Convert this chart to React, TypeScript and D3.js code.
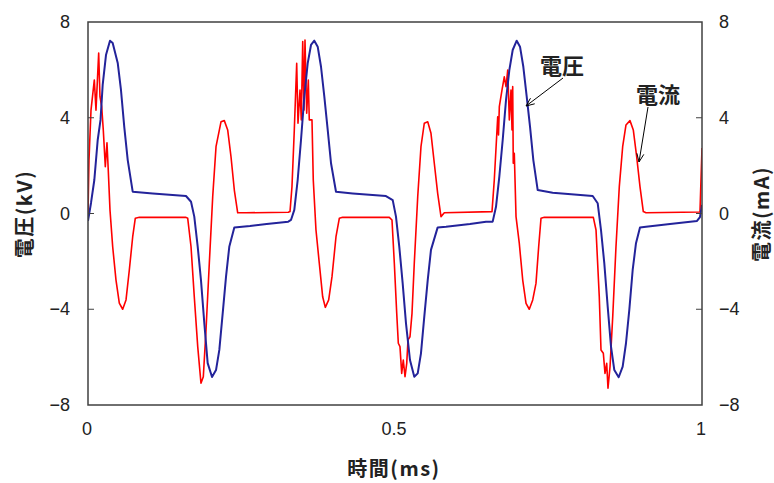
import React from "react";
import * as d3 from "d3";

// time (ms), voltage (kV)
const voltageTime = [
  0, 0.0049, 0.0103, 0.0158, 0.0204, 0.0239, 0.0293, 0.0358, 0.0402, 0.0484, 0.0537, 0.0591, 0.0647, 0.0728,
  0.1054, 0.1596, 0.1678, 0.1731, 0.1787, 0.184, 0.1894, 0.1949, 0.202, 0.2085, 0.2139, 0.2194, 0.2248, 0.2301,
  0.2383, 0.2638, 0.291, 0.3262, 0.3306, 0.336, 0.3415, 0.3469, 0.3523, 0.3578, 0.3632, 0.3686, 0.3741, 0.3795,
  0.3849, 0.3904, 0.3958, 0.4039, 0.4311, 0.4853, 0.4963, 0.5016, 0.507, 0.5125, 0.5179, 0.5244, 0.5314, 0.537,
  0.5423, 0.5477, 0.5533, 0.5586, 0.5695, 0.5831, 0.6221, 0.6482, 0.6591, 0.6645, 0.6699, 0.6754, 0.6808, 0.6862,
  0.6917, 0.6982, 0.7036, 0.709, 0.7145, 0.7199, 0.7253, 0.7324, 0.7568, 0.822, 0.8301, 0.8355, 0.8409, 0.8464,
  0.8518, 0.8572, 0.8643, 0.8708, 0.8762, 0.8816, 0.8871, 0.8925, 0.899, 0.9088, 0.9479, 0.9919, 0.9967, 1.0,
];
const voltageKV = [
  -0.31, 0.44, 1.4, 3.07, 3.91, 5.37, 6.62, 7.22, 7.12, 6.29, 5.16, 3.61, 2.23, 0.91,
  0.84, 0.73, 0.49, -0.13, -1.39, -2.78, -4.57, -6.25, -6.83, -6.54, -5.7, -4.16, -2.64, -1.39,
  -0.58, -0.52, -0.44, -0.34, -0.27, 0.15, 1.4, 3.07, 4.88, 6.27, 7.04, 7.22, 6.97, 6.13,
  4.88, 3.49, 2.1, 0.91, 0.84, 0.73, 0.56, -0.13, -1.39, -2.92, -4.59, -6.12, -6.82, -6.68,
  -5.84, -4.31, -2.78, -1.52, -0.58, -0.55, -0.44, -0.34, -0.34, 0.28, 1.54, 3.07, 4.74, 5.99,
  6.83, 7.22, 6.97, 6.13, 4.88, 3.63, 2.23, 0.98, 0.87, 0.73, 0.43, -0.69, -2.08, -3.89,
  -5.56, -6.54, -6.84, -6.4, -5.42, -4.03, -2.36, -1.24, -0.58, -0.55, -0.44, -0.31, -0.15, 0.36,
];

// time (ms), current (mA)
const currentTime = [
  0, 0.0016, 0.0049, 0.0103, 0.013, 0.0174, 0.0195, 0.0223, 0.0249, 0.0282, 0.0309, 0.033, 0.0358, 0.0402,
  0.0456, 0.051, 0.0565, 0.0619, 0.0673, 0.0728, 0.077, 0.0836, 0.1596, 0.1624, 0.1678, 0.1731, 0.1787, 0.184,
  0.1878, 0.1922, 0.1976, 0.2031, 0.2085, 0.2166, 0.222, 0.2275, 0.2329, 0.2383, 0.2438, 0.2573, 0.3262, 0.329,
  0.3322, 0.336, 0.3399, 0.342, 0.3453, 0.3474, 0.3497, 0.3518, 0.3534, 0.3562, 0.3588, 0.3604, 0.3648, 0.3669,
  0.3713, 0.3767, 0.3822, 0.3865, 0.392, 0.3974, 0.4039, 0.4093, 0.4148, 0.4907, 0.4951, 0.4989, 0.5028, 0.5054,
  0.5081, 0.5109, 0.5135, 0.5163, 0.5191, 0.5212, 0.5244, 0.5277, 0.5314, 0.537, 0.5423, 0.5477, 0.5533, 0.5586,
  0.564, 0.5695, 0.5749, 0.5803, 0.658, 0.6617, 0.6673, 0.6686, 0.6699, 0.6743, 0.678, 0.6808, 0.6836, 0.6862,
  0.6889, 0.6906, 0.6917, 0.6926, 0.6943, 0.6971, 0.7024, 0.708, 0.7134, 0.7187, 0.7243, 0.7296, 0.734, 0.7378,
  0.7432, 0.823, 0.8274, 0.8327, 0.8355, 0.8393, 0.842, 0.8448, 0.8469, 0.8502, 0.8546, 0.8599, 0.8653, 0.8708,
  0.8762, 0.8827, 0.8881, 0.8936, 0.899, 0.9044, 0.9088, 0.9967, 1.0,
];
const currentMA = [
  0.02, 2.23, 4.32, 5.58, 4.32, 6.7, 4.88, 4.46, 3.49, 1.96, 2.95, 1.82, 0.15, -1.39,
  -2.78, -3.74, -4.0, -3.61, -2.36, -0.97, -0.2, -0.16, -0.16, -0.2, -1.39, -3.48, -5.56, -7.09,
  -6.82, -4.87, -2.07, 0.7, 2.79, 3.83, 3.88, 3.49, 2.37, 0.98, 0.03, 0.03, 0.05, 0.08,
  1.12, 3.49, 6.27, 3.77, 5.16, 3.91, 7.18, 4.32, 7.25, 4.19, 5.58, 3.91, 3.91, 1.4,
  -0.69, -2.08, -3.48, -3.92, -3.61, -2.64, -0.97, -0.2, -0.16, -0.16, -0.27, -2.08, -4.17, -5.42,
  -5.56, -6.68, -6.12, -6.82, -6.26, -5.28, -5.15, -4.17, -2.08, 0.7, 2.79, 3.77, 3.83, 3.35,
  2.1, 0.84, -0.13, 0.03, 0.08, 1.4, 4.04, 3.28, 4.46, 5.16, 5.71, 5.3, 5.99, 3.91,
  5.16, 3.49, 5.3, 2.1, 2.51, -0.13, -1.24, -2.78, -3.75, -4.0, -3.61, -2.92, -1.39, -0.2,
  -0.16, -0.16, -0.69, -3.48, -5.7, -5.84, -6.68, -6.26, -7.3, -6.4, -4.31, -1.39, 1.12, 2.79,
  3.7, 3.88, 3.49, 2.37, 1.12, 0.08, 0.03, 0.06, 2.74,
];

const yTicks = [8, 4, 0, -4, -8];
const xTicks = [0, 0.5, 1];
const yTickInside = [4, 0, -4];

const W = 774;
const H = 483;
const M = { left: 88, right: 702, top: 22, bottom: 405 };

const fmt = (v: number) => (v < 0 ? "\u2212" + Math.abs(v) : String(v));

export default function App() {
  const x = d3.scaleLinear().domain([0, 1]).range([M.left, M.right]);
  const yL = d3.scaleLinear().domain([-8, 8]).range([M.bottom, M.top]);
  const yR = d3.scaleLinear().domain([-8, 8]).range([M.bottom, M.top]);

  const vPts: [number, number][] = voltageTime.map((t, i) => [t, voltageKV[i]]);
  const cPts: [number, number][] = currentTime.map((t, i) => [t, currentMA[i]]);
  const vLine = d3
    .line<[number, number]>()
    .x((d) => x(d[0]))
    .y((d) => yL(d[1]));
  const cLine = d3
    .line<[number, number]>()
    .x((d) => x(d[0]))
    .y((d) => yR(d[1]));

  const tickFont = "'Liberation Sans', Arial, sans-serif";
  const jpFont = "'Noto Sans CJK JP', sans-serif";

  const arrow = (x1: number, y1: number, x2: number, y2: number) => {
    const a = Math.atan2(y2 - y1, x2 - x1);
    const L = 9;
    const s = 0.4;
    const p1 = [x2 - L * Math.cos(a - s), y2 - L * Math.sin(a - s)];
    const p2 = [x2 - L * Math.cos(a + s), y2 - L * Math.sin(a + s)];
    return (
      <g stroke="#000" strokeWidth={1} fill="none">
        <line x1={x1} y1={y1} x2={x2} y2={y2} />
        <polyline points={`${p1[0]},${p1[1]} ${x2},${y2} ${p2[0]},${p2[1]}`} />
      </g>
    );
  };

  const titleProps = {
    textAnchor: "middle" as const,
    dominantBaseline: "central" as const,
    fontFamily: jpFont,
    fontWeight: 700,
    fontSize: 20,
    letterSpacing: 1.5,
    fill: "#222",
  };

  return (
    <svg
      width={W}
      height={H}
      style={{ position: "absolute", left: 0, top: 0, background: "#fff" }}
    >
      <rect x={0} y={0} width={W} height={H} fill="#fff" />
      <defs>
        <clipPath id="plot">
          <rect x={M.left} y={M.top - 2} width={M.right - M.left} height={M.bottom - M.top + 4} />
        </clipPath>
      </defs>
      <g clipPath="url(#plot)">
        <path d={cLine(cPts) || ""} fill="none" stroke="#ff0000" strokeWidth={1.6} strokeLinejoin="round" />
        <path d={vLine(vPts) || ""} fill="none" stroke="#23239a" strokeWidth={2} strokeLinejoin="round" />
      </g>
      <rect
        x={M.left}
        y={M.top}
        width={M.right - M.left}
        height={M.bottom - M.top}
        fill="none"
        stroke="#404040"
        strokeWidth={1.5}
      />
      {yTickInside.map((v) => (
        <g key={"t" + v} stroke="#404040" strokeWidth={1}>
          <line x1={M.left} x2={M.left + 6} y1={yL(v)} y2={yL(v)} />
          <line x1={M.right - 6} x2={M.right} y1={yR(v)} y2={yR(v)} />
        </g>
      ))}
      {yTicks.map((v) => (
        <text
          key={"l" + v}
          x={70}
          y={yL(v)}
          textAnchor="end"
          dominantBaseline="central"
          fontFamily={tickFont}
          fontSize={18}
          fill="#222"
        >
          {fmt(v)}
        </text>
      ))}
      {yTicks.map((v) => (
        <text
          key={"r" + v}
          x={719}
          y={yR(v)}
          textAnchor="start"
          dominantBaseline="central"
          fontFamily={tickFont}
          fontSize={18}
          fill="#222"
        >
          {fmt(v)}
        </text>
      ))}
      {xTicks.map((v) => (
        <text
          key={"x" + v}
          x={x(v) - 1}
          y={429}
          textAnchor="middle"
          dominantBaseline="central"
          fontFamily={tickFont}
          fontSize={18}
          fill="#222"
        >
          {String(v)}
        </text>
      ))}
      <text x={394} y={467} {...titleProps}>
        時間(ms)
      </text>
      <text transform={`translate(23,214) rotate(-90)`} {...titleProps}>
        電圧(kV)
      </text>
      <text transform={`translate(760,214) rotate(-90)`} {...titleProps}>
        電流(mA)
      </text>
      <text
        x={562}
        y={64}
        textAnchor="middle"
        dominantBaseline="central"
        fontFamily={jpFont}
        fontWeight={700}
        fontSize={22}
        fill="#222"
      >
        電圧
      </text>
      <text
        x={658}
        y={93}
        textAnchor="middle"
        dominantBaseline="central"
        fontFamily={jpFont}
        fontWeight={700}
        fontSize={22}
        fill="#222"
      >
        電流
      </text>
      {arrow(563, 78, 526, 106)}
      {arrow(648, 107, 639, 162)}
    </svg>
  );
}
